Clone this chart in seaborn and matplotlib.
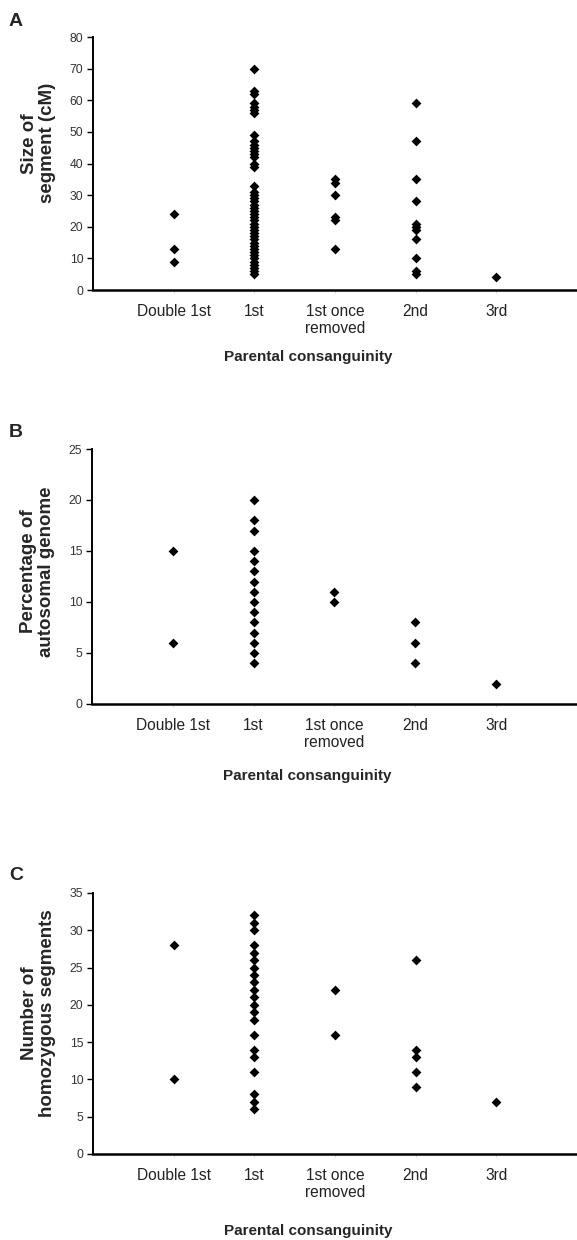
import pandas as pd
import seaborn as sns
import matplotlib.pyplot as plt

# categories on the x axis (same for all three panels)
categories = ['Double 1st', '1st', '1st once\nremoved', '2nd', '3rd']

# panel A: size of segment (cM)
seg_double1st = [24, 13, 9]
seg_1st = [70, 63, 62, 59, 58, 57, 56, 49, 47, 46, 45, 44, 43, 42, 40, 39, 33,
           31, 30, 29, 28, 27, 26, 25, 24, 23, 22, 21, 20, 19, 18, 17, 16, 15,
           14, 13, 12, 11, 10, 9, 8, 7, 6, 5]
seg_1st_removed = [35, 34, 30, 23, 22, 13]
seg_2nd = [59, 47, 35, 28, 21, 20, 19, 16, 10, 6, 5]
seg_3rd = [4]

# panel B: percentage of autosomal genome
pct_double1st = [15, 6]
pct_1st = [20, 18, 17, 15, 14, 13, 12, 11, 10, 9, 8, 7, 6, 5, 4]
pct_1st_removed = [11, 10]
pct_2nd = [8, 6, 4]
pct_3rd = [2]

# panel C: number of homozygous segments
num_double1st = [28, 10]
num_1st = [32, 31, 30, 28, 27, 26, 25, 24, 23, 22, 21, 20, 19, 18, 16, 14, 13,
           11, 8, 7, 6]
num_1st_removed = [22, 16]
num_2nd = [26, 14, 13, 11, 9]
num_3rd = [7]


#builds a long dataframe for seaborn from the five groups
def to_frame(groups):
    rows = []
    for cat, vals in zip(categories, groups):
        for v in vals:
            rows.append((cat, v))
    return pd.DataFrame(rows, columns=['cat', 'val'])


sns.set_theme(style='white')
plt.rcParams['font.family'] = ['Liberation Sans', 'DejaVu Sans']

fig = plt.figure(figsize=(5.77, 12.4), dpi=100)

panels = [
    # letter, data, ylabel, ymax, step, axes rect, label y, xlabel y, letter y
    ('A', [seg_double1st, seg_1st, seg_1st_removed, seg_2nd, seg_3rd],
     'Size of\nsegment (cM)', 80, 10, [0.1612, 0.7661, 0.8388, 0.2040], 0.58, -0.237, 1 - 21 / 1240),
    ('B', [pct_double1st, pct_1st, pct_1st_removed, pct_2nd, pct_3rd],
     'Percentage of\nautosomal genome', 25, 5, [0.1594, 0.4323, 0.8405, 0.2056], 0.52, -0.255, 1 - 433 / 1240),
    ('C', [num_double1st, num_1st, num_1st_removed, num_2nd, num_3rd],
     'Number of\nhomozygous segments', 35, 5, [0.1612, 0.0694, 0.8388, 0.2105], 0.54, -0.268, 1 - 876 / 1240),
]

for letter, groups, ylab, ymax, step, rect, ly, xly, lety in panels:
    ax = fig.add_axes(rect)
    df = to_frame(groups)
    sns.stripplot(data=df, x='cat', y='val', order=categories, jitter=False,
                  color='black', marker='D', size=5, linewidth=0, ax=ax,
                  clip_on=False)
    ax.set_xlim(-1, 5)
    ax.set_ylim(0, ymax)
    ax.set_yticks(range(0, ymax + 1, step))
    sns.despine(ax=ax)
    ax.spines['left'].set_color('black')
    ax.spines['left'].set_linewidth(1.4)
    ax.spines['bottom'].set_color('black')
    ax.spines['bottom'].set_linewidth(1.8)
    ax.tick_params(axis='y', which='major', left=True, length=4, width=1,
                   color='black', pad=3, labelsize=8.8, labelcolor='#333333')
    ax.tick_params(axis='x', which='major', bottom=True, length=2, width=0.6,
                   color='#cccccc', pad=8, labelsize=11.2, labelcolor='#222222')
    ax.set_ylabel(ylab, fontsize=13.5, fontweight='bold', linespacing=1.05)
    ax.yaxis.set_label_coords(-0.077, ly)
    ax.set_xlabel('Parental consanguinity', fontsize=11, fontweight='bold')
    ax.xaxis.set_label_coords(0.444, xly)
    fig.text(9 / 577, lety, letter, fontsize=14, fontweight='bold',
             ha='left', va='center')

fig.savefig('out.png', dpi=100)
